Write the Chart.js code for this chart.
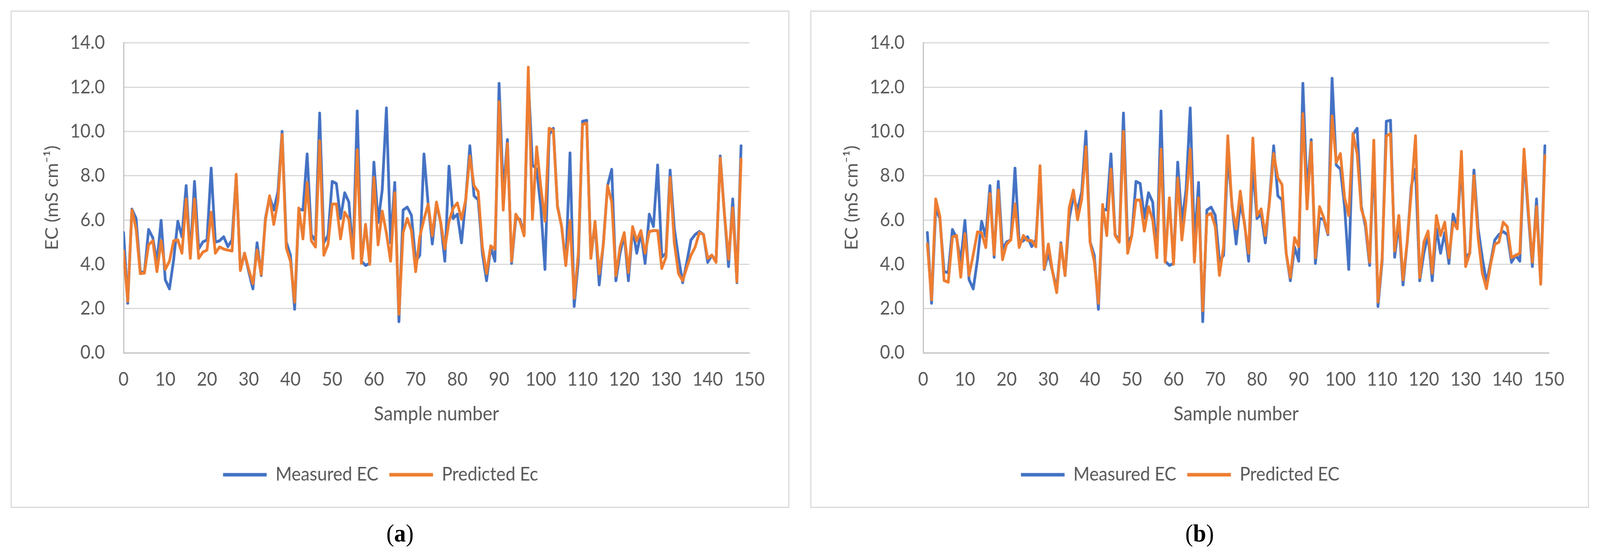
<!DOCTYPE html>
<html>
<head>
<meta charset="utf-8">
<script src="https://cdn.jsdelivr.net/npm/chart.js@4.4.1/dist/chart.umd.min.js"></script>
<style>
  html, body { margin: 0; padding: 0; background: #fff; overflow: hidden; }
  #page { width: 4364px; height: 1423px; position: relative; transform-origin: 0 0; background: #fff; }
  .panel { position: absolute; top: 27px; width: 2124px; height: 1273px; border: 3px solid #d9d9d9; box-sizing: border-box; }
  .panel .box { position: absolute; left: 0; top: 0; width: 2118px; height: 1267px; }
  .cap { position: absolute; top: 1328px; width: 2124px; text-align: center; font-family: "Liberation Serif", serif; font-size: 64px; color: #000; }
</style>
</head>
<body>
<div id="page">
  <div class="panel" style="left:29px"><div class="box"><canvas id="chartA"></canvas></div></div>
  <div class="panel" style="left:2210px"><div class="box"><canvas id="chartB"></canvas></div></div>
  <div class="cap" style="left:29px">(<b>a</b>)</div>
  <div class="cap" style="left:2210px">(<b>b</b>)</div>
</div>
<script>
// ---------------- DATA ----------------
// sample numbers start at 0 in panel (a), at 1 in panel (b)
const START_A = 0;
const START_B = 1;

const measuredEC = [
  5.43, 2.24, 6.49, 6.07, 3.67, 3.62, 5.57, 5.20, 4.10, 5.98,
  3.30, 2.89, 4.20, 5.94, 5.24, 7.55, 4.32, 7.74, 4.69, 5.01,
  5.10, 8.34, 5.00, 5.06, 5.24, 4.80, 5.10, 8.00, 3.77, 4.50,
  3.67, 2.89, 4.97, 3.49, 6.07, 7.05, 6.45, 7.28, 10.00, 5.01,
  4.41, 1.97, 6.49, 6.45, 8.98, 5.34, 5.06, 10.83, 4.97, 5.30,
  7.74, 7.65, 6.07, 7.23, 6.81, 4.41, 10.92, 4.14, 3.95, 4.04,
  8.61, 5.89, 7.37, 11.06, 4.97, 7.69, 1.41, 6.45, 6.58, 6.21,
  4.14, 4.41, 8.98, 6.72, 4.92, 6.75, 5.89, 4.14, 8.43, 6.07,
  6.26, 4.97, 6.91, 9.35, 7.09, 6.91, 4.50, 3.26, 4.78, 4.14,
  12.17, 7.20, 9.63, 4.04, 6.07, 6.03, 5.34, 12.40, 8.48, 8.30,
  6.60, 3.77, 9.86, 10.14, 6.63, 5.70, 3.95, 9.03, 2.10, 4.14,
  10.46, 10.50, 4.32, 5.89, 3.07, 4.97, 7.55, 8.29, 3.26, 4.50,
  5.34, 3.26, 5.61, 4.50, 5.43, 4.04, 6.26, 5.71, 8.48, 4.32,
  4.50, 8.25, 5.61, 4.30, 3.17, 4.10, 5.10, 5.34, 5.48, 5.34,
  4.09, 4.41, 4.14, 8.89, 6.30, 3.90, 6.95, 3.17, 9.35
];

const predictedA = [
  4.60, 2.33, 6.45, 5.60, 3.58, 3.60, 4.88, 5.06, 3.67, 5.06,
  3.77, 4.14, 5.06, 5.10, 4.50, 6.95, 4.27, 6.95, 4.27, 4.55,
  4.64, 6.35, 4.50, 4.78, 4.69, 4.64, 4.60, 8.06, 3.72, 4.50,
  3.77, 3.12, 4.64, 3.54, 5.98, 7.09, 5.80, 6.86, 9.86, 4.74,
  4.14, 2.29, 6.54, 5.15, 7.69, 5.06, 4.78, 9.58, 4.41, 4.90,
  6.72, 6.72, 5.15, 6.35, 6.03, 4.27, 9.17, 4.04, 5.80, 4.00,
  7.92, 4.88, 6.40, 5.40, 4.14, 7.23, 1.74, 5.43, 6.07, 5.52,
  3.67, 5.24, 6.03, 6.72, 5.29, 6.81, 5.90, 4.69, 5.94, 6.54,
  6.77, 6.03, 6.91, 8.89, 7.55, 7.28, 4.78, 3.58, 4.83, 4.69,
  11.34, 6.45, 9.45, 4.14, 6.26, 5.94, 5.29, 12.90, 6.03, 9.30,
  7.50, 5.95, 10.14, 10.05, 6.58, 5.70, 3.95, 5.98, 2.47, 4.50,
  10.32, 10.37, 4.27, 5.94, 3.58, 4.88, 7.55, 6.81, 3.49, 4.78,
  5.43, 3.63, 5.70, 5.06, 5.52, 4.50, 5.48, 5.52, 5.52, 3.81,
  4.32, 7.92, 4.97, 3.58, 3.26, 3.86, 4.41, 4.78, 5.43, 5.34,
  4.27, 4.41, 4.09, 8.80, 6.30, 4.23, 6.54, 3.21, 8.75
];

const predictedB = [
  4.91, 2.40, 6.95, 6.17, 3.27, 3.19, 5.23, 5.30, 3.42, 5.38,
  3.50, 4.44, 5.46, 5.42, 4.76, 7.19, 4.44, 7.35, 4.21, 4.91,
  5.10, 6.72, 4.76, 5.30, 5.07, 5.07, 4.79, 8.45, 3.81, 4.91,
  3.66, 2.72, 4.91, 3.50, 6.56, 7.35, 6.01, 6.95, 9.31, 4.99,
  4.13, 2.24, 6.70, 5.30, 8.30, 5.30, 5.00, 10.00, 4.50, 5.30,
  6.90, 6.90, 5.50, 6.60, 6.00, 4.30, 9.20, 4.10, 7.00, 4.00,
  7.90, 5.10, 6.80, 9.20, 4.10, 7.00, 1.90, 6.20, 6.30, 5.70,
  3.50, 4.80, 9.80, 6.60, 5.60, 7.30, 5.80, 4.50, 9.70, 6.20,
  6.50, 5.30, 6.80, 9.00, 7.90, 7.60, 4.50, 3.40, 5.20, 4.80,
  10.80, 6.50, 9.50, 4.30, 6.60, 6.10, 5.40, 10.70, 8.60, 9.00,
  7.00, 6.20, 9.90, 9.00, 6.50, 5.90, 4.10, 9.60, 2.30, 4.30,
  9.80, 9.90, 4.60, 6.20, 3.30, 5.00, 7.30, 9.80, 3.40, 5.00,
  5.50, 3.60, 6.20, 5.30, 5.90, 4.30, 5.90, 5.60, 9.10, 3.90,
  4.50, 8.00, 5.20, 3.60, 2.90, 4.00, 4.90, 5.00, 5.90, 5.70,
  4.30, 4.40, 4.50, 9.20, 6.50, 4.10, 6.60, 3.10, 8.90
];

const X_TICKS = [0, 150, 10];     // min, max, step
const Y_TICKS = [0, 14, 2];
const X_TITLE = 'Sample number';
const Y_TITLE = 'EC (mS cm\u207B\u00B9)';

// ---------------- STYLE ----------------
const BLUE = '#4472C4';
const ORANGE = '#ED7D31';
const TEXT = '#595959';
const GRID = '#D9D9D9';
const FONT = 'Lato, "Open Sans", sans-serif';

// the visible window is not exactly 4364x1423, so stretch the page onto it
const page = document.getElementById('page');
const kx = window.innerWidth / 4364;
const ky = window.innerHeight / 1423;
if (kx > 0 && ky > 0 && (Math.abs(kx - 1) > 0.001 || Math.abs(ky - 1) > 0.001)) {
  page.style.transform = `scale(${kx}, ${ky})`;
}

function points(values, start) {
  return values.map((v, i) => ({ x: start + i, y: v }));
}

function makePanel(id, start, predicted, predLabel) {
  const ctx = document.getElementById(id).getContext('2d');
  return new Chart(ctx, {
    type: 'scatter',
    data: {
      datasets: [
        { label: 'Measured EC', data: points(measuredEC, start), borderColor: BLUE, backgroundColor: BLUE,
          showLine: true, borderWidth: 7.5, pointRadius: 0, borderJoinStyle: 'round', borderCapStyle: 'round', order: 1 },
        { label: predLabel, data: points(predicted, start), borderColor: ORANGE, backgroundColor: ORANGE,
          showLine: true, borderWidth: 7.5, pointRadius: 0, borderJoinStyle: 'round', borderCapStyle: 'round', order: 0 }
      ]
    },
    options: {
      responsive: true,
      maintainAspectRatio: false,
      animation: false,
      layout: { padding: { top: 63, right: 106, bottom: 48, left: 0 } },
      plugins: {
        tooltip: { enabled: false },
        legend: {
          position: 'bottom',
          labels: {
            color: TEXT,
            font: { family: FONT, size: 48 },
            boxWidth: 119,
            boxHeight: 9,
            padding: 30,
            sort: (a, b) => a.datasetIndex - b.datasetIndex,
            generateLabels: chart => Chart.defaults.plugins.legend.labels.generateLabels(chart)
              .map(l => Object.assign(l, { lineWidth: 0 }))
          }
        }
      },
      scales: {
        x: {
          type: 'linear',
          min: X_TICKS[0], max: X_TICKS[1],
          afterFit: s => { s.height = 258; },
          ticks: { stepSize: X_TICKS[2], color: TEXT, padding: 40, font: { family: FONT, size: 48 } },
          grid: { display: false, drawTicks: false },
          border: { display: true, color: '#BFBFBF', width: 3 },
          title: { display: true, text: X_TITLE, color: TEXT, font: { family: FONT, size: 50 }, padding: { top: 0, bottom: 71 } }
        },
        y: {
          min: Y_TICKS[0], max: Y_TICKS[1],
          afterFit: s => { s.width = 305; },
          ticks: { stepSize: Y_TICKS[2], color: TEXT, padding: 51, font: { family: FONT, size: 48 },
                   callback: v => v.toFixed(1) },
          grid: { color: GRID, lineWidth: 3, drawTicks: false },
          border: { display: true, color: '#BFBFBF', width: 3 },
          title: { display: true, text: Y_TITLE, color: TEXT, font: { family: FONT, size: 48 }, padding: { top: 82, bottom: 0 } }
        }
      }
    }
  });
}

makePanel('chartA', START_A, predictedA, 'Predicted Ec');
makePanel('chartB', START_B, predictedB, 'Predicted EC');
</script>
</body>
</html>
